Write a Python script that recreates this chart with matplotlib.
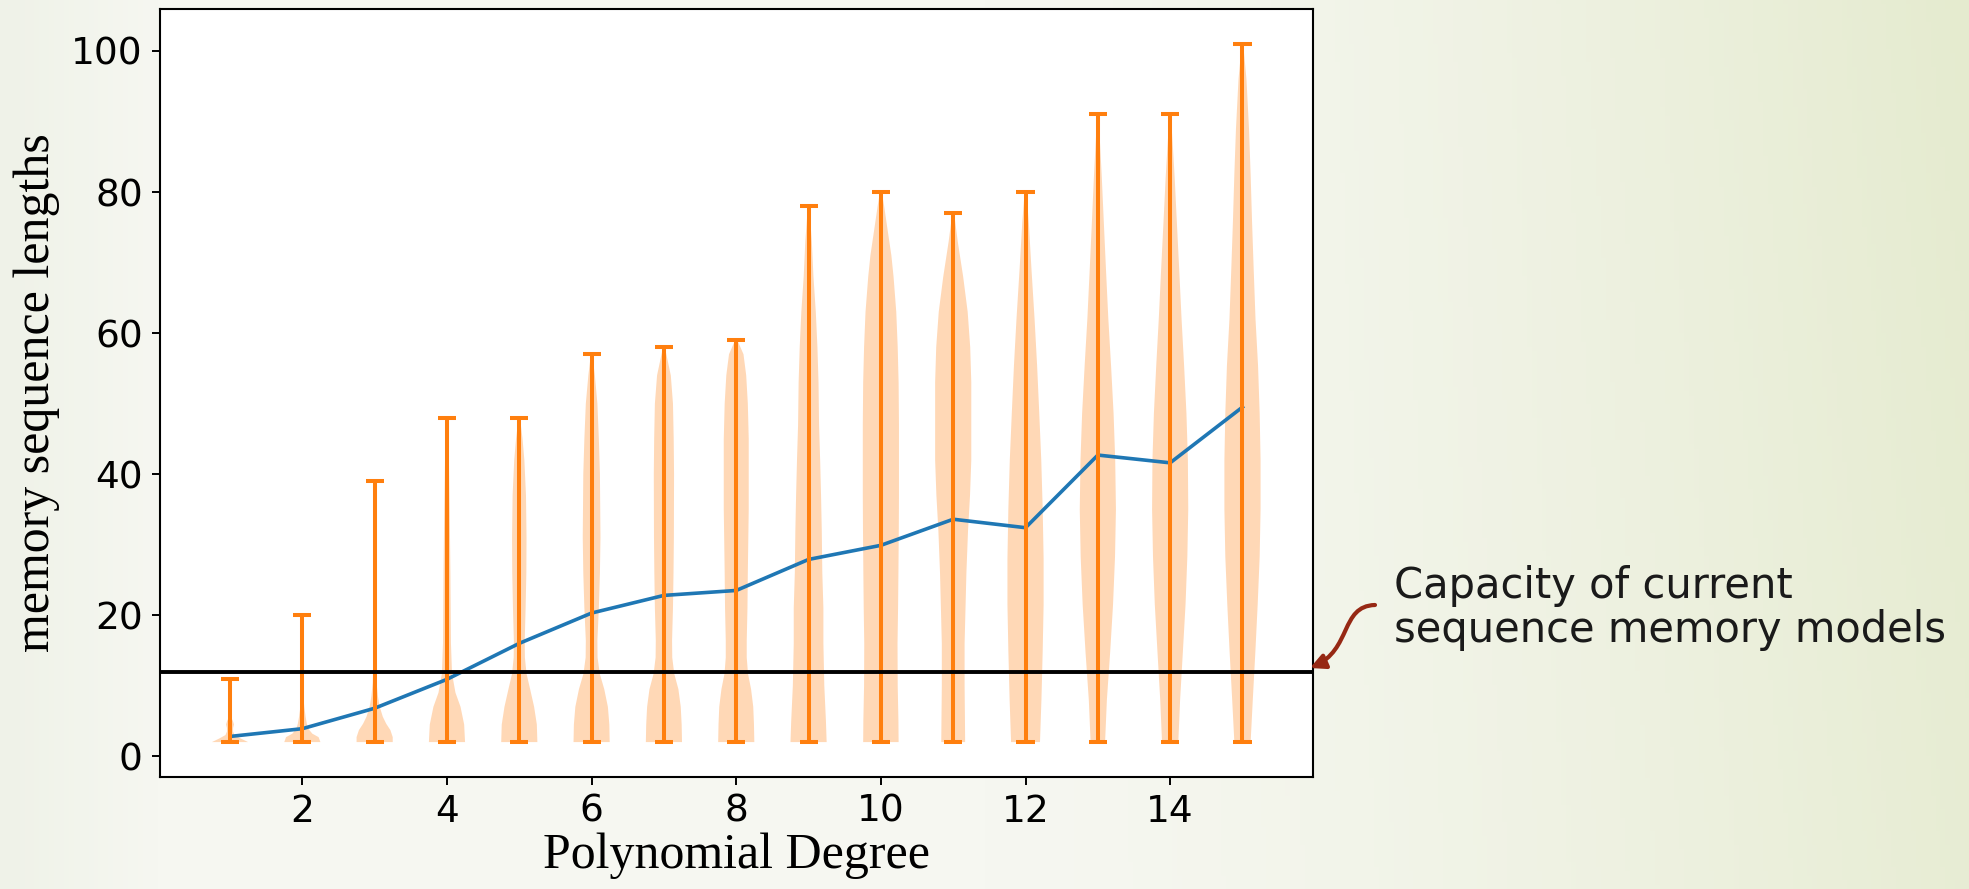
import numpy as np
import matplotlib
matplotlib.use("Agg")
import matplotlib.pyplot as plt
from matplotlib.path import Path
from matplotlib.patches import FancyArrowPatch

# ---------------- data ----------------
degrees = list(range(1, 16))
mean_lengths = [2.8, 3.9, 6.8, 10.9, 16.0, 20.3, 22.8, 23.5, 27.9, 29.9, 33.6, 32.4, 42.7, 41.6, 49.5]
min_lengths = [2] * 15
max_lengths = [11, 20, 39, 48, 48, 57, 58, 59, 78, 80, 77, 80, 91, 91, 101]
capacity = 12

# violin density profiles: sample lengths and relative density at each
profile_y = [
    [2, 2.5, 3.0, 3.5, 4.0, 4.5, 5.0, 5.5, 6.5, 8, 11],
    [2, 2.7, 3.2, 3.9, 4.6, 5.6, 7, 8.5, 10, 13, 16, 20],
    [2, 2.7, 3.7, 4.6, 5.6, 7.1, 8.5, 10.4, 12, 15, 20, 25, 30, 35, 39],
    [2, 4.5, 7, 9, 11.7, 16, 26, 35, 45, 48],
    [2, 4.5, 7, 9.5, 11.7, 14, 16.4, 21, 26, 31, 37, 42, 45, 48],
    [2, 4.5, 7, 9.5, 11.7, 14, 16.4, 21, 26, 31, 40, 45, 50, 54, 57],
    [2, 4.5, 7, 9.5, 11.7, 14, 16.4, 21, 26, 31, 40, 45, 50, 54, 58],
    [2, 4.5, 7, 9.5, 11.7, 14, 16.4, 21, 26, 35, 45, 50, 54, 57, 59],
    [2, 5, 10, 16, 21, 26, 32, 37, 42, 47, 53, 58, 63, 68, 73, 78],
    [2, 5, 10, 16, 21, 26, 32, 37, 42, 47, 53, 58, 63, 68, 71, 75, 78, 80],
    [2, 5, 10, 16, 21, 26, 32, 37, 42, 47, 53, 58, 63, 68, 73, 77],
    [2, 8, 15, 21.5, 28, 35, 42, 48.6, 55.4, 62, 69, 75.7, 80],
    [2, 8, 14.7, 21.5, 28.3, 35, 42, 48.6, 55.4, 62, 69, 75.7, 82, 86, 91],
    [2, 8, 14.7, 21.5, 28.3, 35, 42, 48.6, 55.4, 62, 69, 75.7, 82, 86, 91],
    [2, 8, 14.7, 21.5, 28.3, 35, 42, 48.6, 55.4, 62, 69, 75.7, 82.5, 89, 96, 101],
]
profile_w = [
    [1.0, 0.6, 0.25, 0.17, 0.17, 0.22, 0.16, 0.06, 0.02, 0.01, 0.005],
    [1.0, 0.9, 0.55, 0.33, 0.25, 0.18, 0.11, 0.06, 0.04, 0.02, 0.01, 0.005],
    [1.0, 1.0, 0.87, 0.64, 0.45, 0.27, 0.18, 0.11, 0.09, 0.07, 0.05, 0.04, 0.03, 0.02, 0.01],
    [1.0, 0.95, 0.75, 0.47, 0.28, 0.22, 0.19, 0.15, 0.09, 0.03],
    [1.0, 0.97, 0.82, 0.6, 0.4, 0.31, 0.3, 0.35, 0.39, 0.4, 0.37, 0.28, 0.18, 0.04],
    [1.0, 0.98, 0.9, 0.7, 0.45, 0.33, 0.32, 0.4, 0.46, 0.49, 0.46, 0.4, 0.32, 0.18, 0.04],
    [1.0, 0.98, 0.93, 0.8, 0.57, 0.46, 0.45, 0.5, 0.53, 0.55, 0.56, 0.54, 0.5, 0.38, 0.05],
    [1.0, 0.98, 0.94, 0.82, 0.65, 0.58, 0.58, 0.62, 0.64, 0.69, 0.69, 0.64, 0.55, 0.4, 0.06],
    [1.0, 0.96, 0.87, 0.82, 0.82, 0.76, 0.73, 0.69, 0.64, 0.58, 0.55, 0.49, 0.4, 0.27, 0.18, 0.04],
    [0.98, 0.97, 0.93, 0.92, 0.95, 0.97, 0.99, 1.0, 1.0, 1.0, 0.98, 0.93, 0.85, 0.7, 0.58, 0.35, 0.18, 0.05],
    [0.66, 0.65, 0.63, 0.63, 0.68, 0.73, 0.82, 0.93, 1.0, 1.0, 1.0, 0.94, 0.8, 0.55, 0.25, 0.05],
    [0.8, 0.88, 0.95, 1.0, 1.0, 0.95, 0.87, 0.76, 0.64, 0.5, 0.33, 0.18, 0.05],
    [0.4, 0.5, 0.68, 0.84, 0.95, 1.0, 0.96, 0.87, 0.73, 0.58, 0.45, 0.33, 0.22, 0.14, 0.04],
    [0.45, 0.55, 0.7, 0.85, 0.95, 1.0, 0.98, 0.9, 0.77, 0.63, 0.5, 0.37, 0.25, 0.16, 0.04],
    [0.45, 0.57, 0.71, 0.84, 0.95, 1.0, 1.0, 0.95, 0.86, 0.72, 0.62, 0.53, 0.45, 0.36, 0.22, 0.04],
]
x_ticks = [2, 4, 6, 8, 10, 12, 14]
y_ticks = [0, 20, 40, 60, 80, 100]
x_label = "Polynomial Degree"
y_label = "memory sequence lengths"
note_text = "Capacity of current\nsequence memory models"

# ---------------- figure ----------------
W, H = 1969, 889
fig = plt.figure(figsize=(W / 100, H / 100), dpi=100)

# slide background gradient
bg = fig.add_axes([0, 0, 1, 1], zorder=-10)
gx = np.linspace(0, 1, 400)[None, :]
gy = np.linspace(0, 1, 200)[:, None]
base_c = np.array([246, 247, 241]) / 255
left_c = np.array([239, 242, 232]) / 255
right_c = np.array([229, 235, 207]) / 255
t_right = np.clip((gx - 0.5) / 0.5, 0, 1) ** 1.4 * (0.85 + 0.15 * (1 - gy))
t_left = np.clip(1 - gx / 0.08, 0, 1) * np.ones_like(gy)
img = base_c[None, None, :] * np.ones((200, 400, 1))
img = img * (1 - t_left[..., None]) + left_c[None, None, :] * t_left[..., None]
img = img * (1 - t_right[..., None]) + right_c[None, None, :] * t_right[..., None]
bg.imshow(img, aspect="auto", extent=[0, 1, 0, 1], origin="upper")
bg.set_axis_off()

ax = fig.add_axes([159.5 / W, 1 - 777 / H, (1313 - 159.5) / W, (777 - 9) / H])
ax.set_facecolor("white")

# mean line
ax.plot(degrees, mean_lengths, color="#1f77b4", lw=2.6, zorder=2)

# violins from the read profiles
vpstats = []
for py, pw, m, lo, hi in zip(profile_y, profile_w, mean_lengths, min_lengths, max_lengths):
    vpstats.append(dict(coords=np.array(py, float), vals=np.array(pw, float),
                        mean=m, median=m, min=lo, max=hi))
parts = ax.violin(vpstats, positions=degrees, widths=0.5, showextrema=True)
for b in parts["bodies"]:
    b.set_facecolor("#ff7f0e")
    b.set_edgecolor("none")
    b.set_alpha(0.3)
for key in ("cbars", "cmins", "cmaxes"):
    parts[key].set_color("#ff7f0e")
    parts[key].set_linewidth(2.9)

ax.axhline(capacity, color="black", lw=2.8, zorder=3)

ax.set_xticks(x_ticks)
ax.set_yticks(y_ticks)
ax.tick_params(axis="both", labelsize=27, length=6, width=1.4, pad=6, direction="out")
for s in ax.spines.values():
    s.set_linewidth(1.5)

ax.set_xlabel(x_label, family="Liberation Serif", fontsize=36, labelpad=2)
ax.set_ylabel(y_label, family="Liberation Serif", fontsize=36, labelpad=8)

# annotation text and curvy arrow
fig.text(1394 / W, 1 - 608 / H, note_text, fontsize=30, color="#1a1a1a",
         va="center", ha="left", linespacing=1.05, family="DejaVu Sans")

pts = [(1375, 605), (1340, 606), (1352, 650), (1310, 668)]
verts = [(x / W, 1 - y / H) for x, y in pts]
path = Path(verts, [Path.MOVETO, Path.CURVE4, Path.CURVE4, Path.CURVE4])
arrow = FancyArrowPatch(path=path, arrowstyle="-|>", mutation_scale=22,
                        color="#962814", lw=3, transform=fig.transFigure)
fig.patches.append(arrow)

fig.savefig("out.png", dpi=100)
